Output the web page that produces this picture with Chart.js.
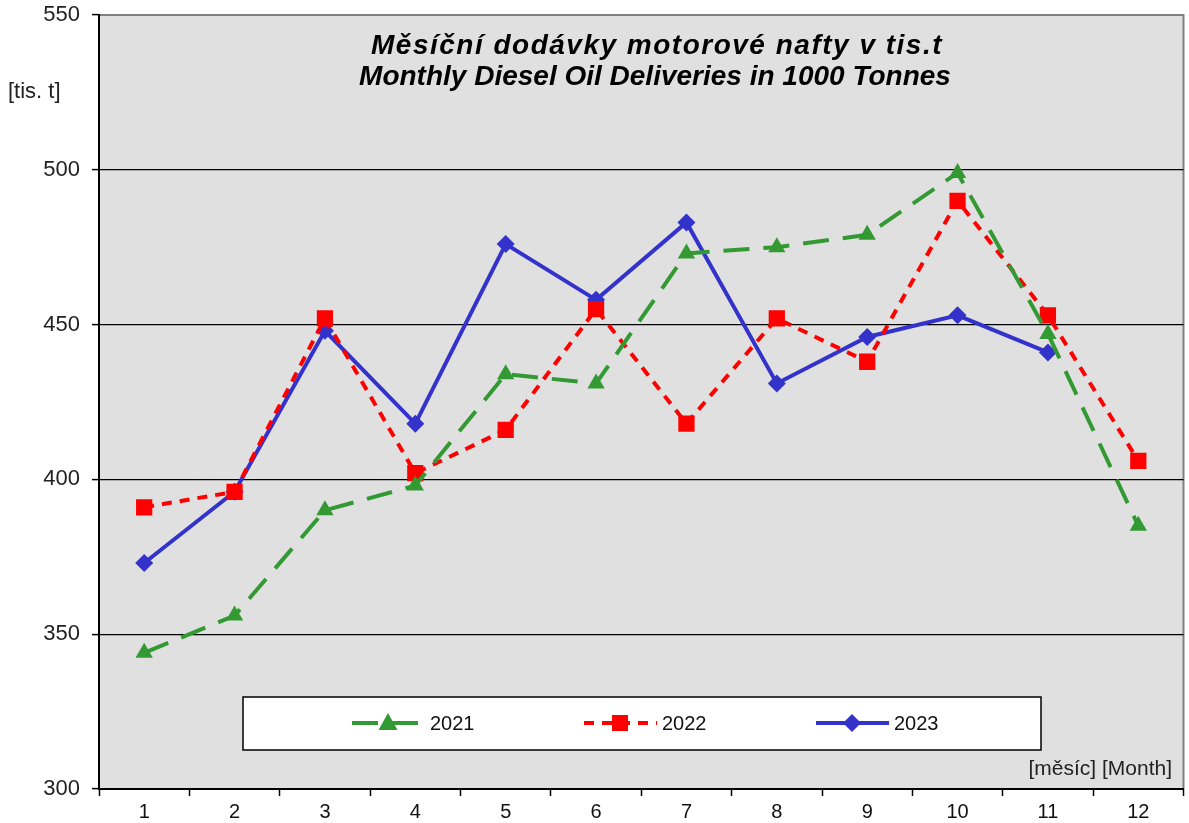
<!DOCTYPE html>
<html>
<head>
<meta charset="utf-8">
<script src="https://cdn.jsdelivr.net/npm/chart.js@4.4.0/dist/chart.umd.min.js"></script>
<style>
  html, body { margin: 0; padding: 0; background: #ffffff; overflow: hidden; }
  #wrap { width: 1189px; height: 823px; overflow: hidden; }
</style>
</head>
<body>
<div id="wrap"><canvas id="mycanvas" width="1195" height="823"></canvas></div>
<script>
// months
var months = ["1","2","3","4","5","6","7","8","9","10","11","12"];
// values in 1000 t
var data2021 = [344, 356, 390, 398, 434, 431, 473, 475, 479, 499, 447, 385];
var data2022 = [391, 396, 452, 402, 416, 455, 418, 452, 438, 490, 453, 406];
var data2023 = [373, 396, 448, 418, 476, 458, 483, 431, 446, 453, 441, null];
var yTicks = [300, 350, 400, 450, 500, 550];

var titleLines = ["Měsíční dodávky motorové nafty v tis.t", "Monthly Diesel Oil Deliveries in 1000 Tonnes"];

var green = "#339933";
var red = "#ff0000";
var blue = "#3333cc";
var fontFam = "'Liberation Sans', Arial, sans-serif";

// background of plot + frame
var bgPlugin = {
  id: "plotBg",
  beforeDraw: function(chart) {
    var c = chart.ctx, a = chart.chartArea;
    c.save();
    c.fillStyle = "#e0e0e0";
    c.fillRect(a.left, a.top, a.right - a.left, a.bottom - a.top);
    c.strokeStyle = "#808080";
    c.lineWidth = 2;
    c.strokeRect(a.left, a.top, a.right - a.left, a.bottom - a.top);
    c.restore();
  }
};

function drawMarker(c, style, x, y, r, color) {
  c.fillStyle = color;
  c.beginPath();
  if (style == "triangle") {
    c.moveTo(x, y - r);
    c.lineTo(x + r * 0.95, y + r * 0.7);
    c.lineTo(x - r * 0.95, y + r * 0.7);
  } else if (style == "rect") {
    c.rect(x - r, y - r, 2 * r, 2 * r);
  } else {
    c.moveTo(x, y - r);
    c.lineTo(x + r, y);
    c.lineTo(x, y + r);
    c.lineTo(x - r, y);
  }
  c.closePath();
  c.fill();
}

// title, axis captions and the boxed legend
var textPlugin = {
  id: "texts",
  afterDraw: function(chart) {
    var c = chart.ctx, a = chart.chartArea;
    c.save();
    c.fillStyle = "#000";
    c.textAlign = "center";
    c.textBaseline = "middle";
    c.font = "italic bold 28px " + fontFam;
    c.letterSpacing = "1.5px";
    c.fillText(titleLines[0], 657, 46);
    c.letterSpacing = "0px";
    c.fillText(titleLines[1], 655, 77);

    c.font = "22px " + fontFam;
    c.textAlign = "left";
    c.fillStyle = "#222";
    c.fillText("[tis. t]", 8, 92);
    c.font = "21px " + fontFam;
    c.textAlign = "right";
    c.fillText("[měsíc] [Month]", 1172, 769);

    // legend box
    c.fillStyle = "#fff";
    c.fillRect(243, 697, 798, 53);
    c.strokeStyle = "#000";
    c.lineWidth = 1.5;
    c.strokeRect(243, 697, 798, 53);

    var items = [
      { x: 352, ds: chart.data.datasets[0], marker: "triangle", r: 10 },
      { x: 584, ds: chart.data.datasets[1], marker: "rect", r: 8 },
      { x: 816, ds: chart.data.datasets[2], marker: "diamond", r: 9 }
    ];
    var ly = 723;
    for (var i in items) {
      var it = items[i];
      c.strokeStyle = it.ds.borderColor;
      c.lineWidth = it.ds.borderWidth;
      c.setLineDash(it.ds.borderDash || []);
      c.beginPath();
      c.moveTo(it.x, ly);
      c.lineTo(it.x + 73, ly);
      c.stroke();
      c.setLineDash([]);
      drawMarker(c, it.marker, it.x + 36, ly, it.r, it.ds.borderColor);
      c.fillStyle = "#111";
      c.textAlign = "left";
      c.font = "20px " + fontFam;
      c.fillText(it.ds.label, it.x + 78, ly + 1);
    }
    c.restore();
  }
};

var chartdata = {
  labels: months,
  datasets: [
    {
      label: "2021",
      data: data2021,
      borderColor: green,
      backgroundColor: green,
      borderWidth: 4,
      borderDash: [26, 14],
      pointStyle: "triangle",
      pointRadius: 10,
      pointBorderWidth: 0,
      tension: 0
    },
    {
      label: "2022",
      data: data2022,
      borderColor: red,
      backgroundColor: red,
      borderWidth: 4,
      borderDash: [10, 8],
      pointStyle: "rect",
      pointRadius: 11.5,
      pointBorderWidth: 0,
      tension: 0
    },
    {
      label: "2023",
      data: data2023,
      borderColor: blue,
      backgroundColor: blue,
      borderWidth: 4,
      pointStyle: "rectRot",
      pointRadius: 9,
      pointBorderWidth: 0,
      tension: 0
    }
  ]
};

var ctx = document.getElementById("mycanvas");
var LineGraph = new Chart(ctx, {
  type: "line",
  data: chartdata,
  plugins: [bgPlugin, textPlugin],
  options: {
    responsive: false,
    animation: false,
    layout: { padding: { top: 15, right: 0, left: 0, bottom: 0 } },
    plugins: {
      legend: { display: false },
      tooltip: { enabled: false }
    },
    scales: {
      x: {
        offset: true,
        grid: {
          offset: true,
          drawOnChartArea: false,
          tickLength: 7,
          tickColor: "#000",
          tickWidth: 1.5
        },
        border: { color: "#000", width: 2 },
        ticks: {
          color: "#111",
          font: { size: 20, family: fontFam },
          padding: 4,
          maxRotation: 0
        },
        afterFit: function(s) {
          s.height = 34;
          s.paddingLeft = 0;
          s.paddingRight = 0;
        }
      },
      y: {
        min: yTicks[0],
        max: yTicks[yTicks.length - 1],
        afterBuildTicks: function(s) {
          s.ticks = yTicks.map(function(v) { return { value: v }; });
        },
        grid: {
          color: function(c) {
            var v = c.tick ? c.tick.value : 0;
            return (v == 300 || v == 550) ? "rgba(0,0,0,0)" : "#000";
          },
          lineWidth: 1.2,
          tickLength: 7,
          tickColor: "#000",
          tickWidth: 1.5
        },
        border: { color: "#000", width: 2 },
        ticks: {
          color: "#222",
          font: { size: 22, family: fontFam },
          padding: 12
        },
        afterFit: function(s) {
          s.width = 99;
          s.paddingTop = 0;
          s.paddingBottom = 0;
        }
      }
    }
  }
});
</script>
</body>
</html>
